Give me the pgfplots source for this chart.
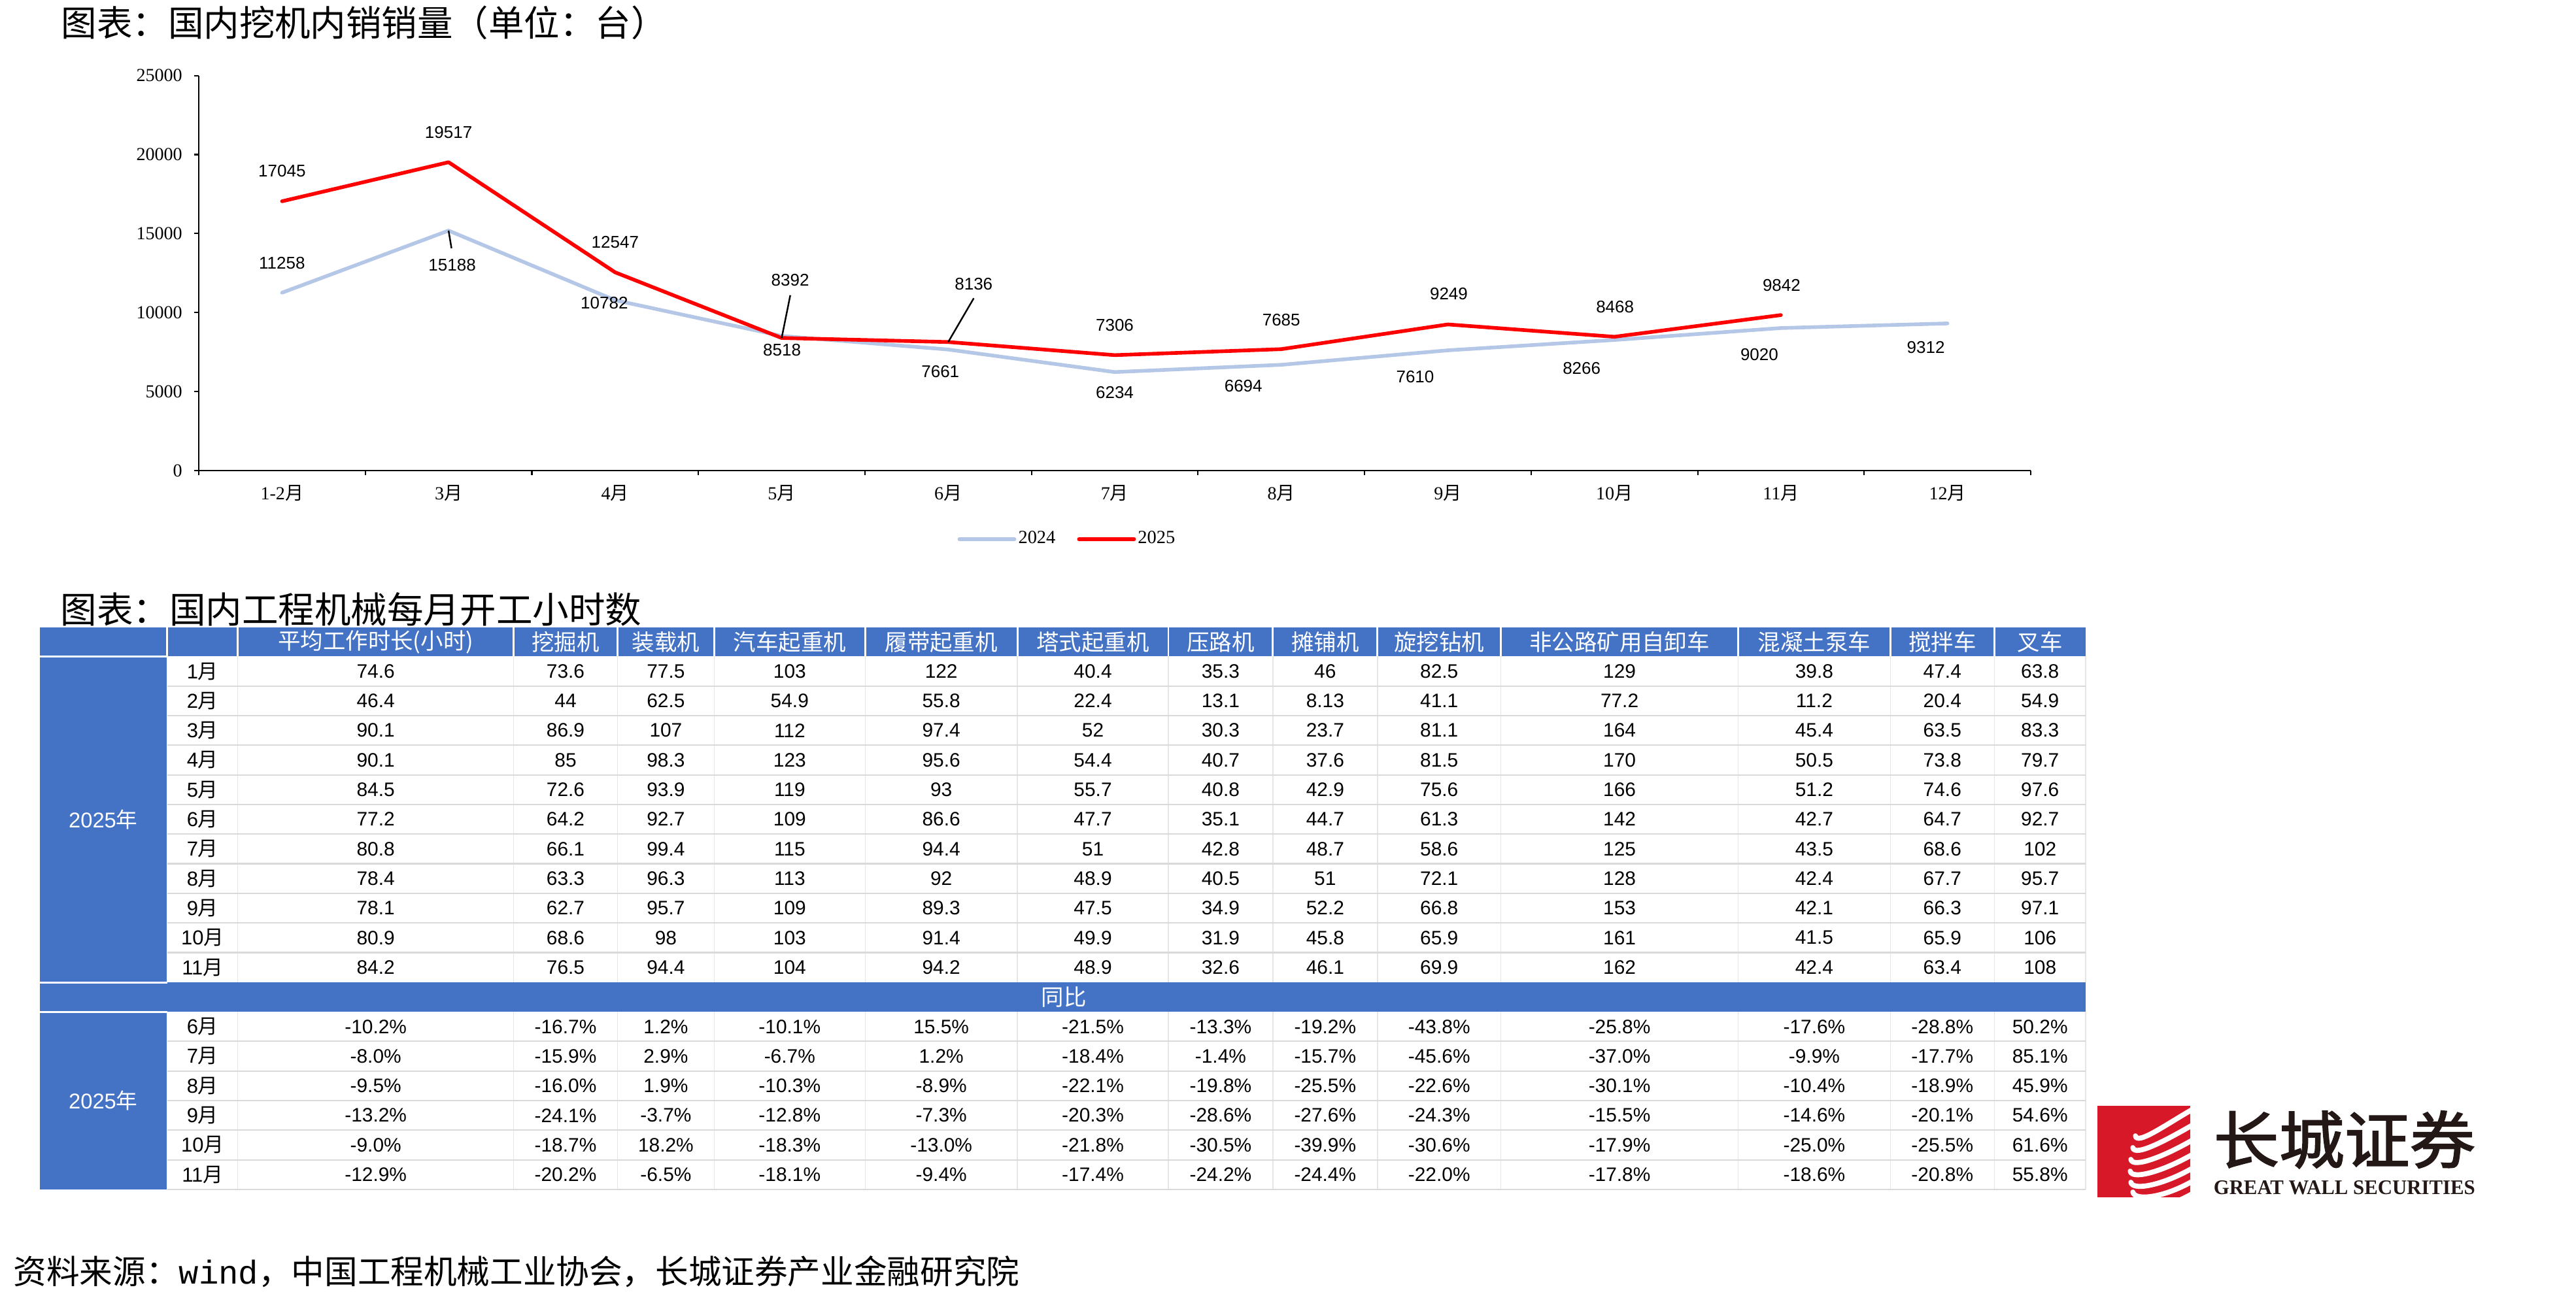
\documentclass[border=0pt]{standalone}
\usepackage{pgfplots}
\pgfplotsset{compat=1.18}
\usepackage{graphicx}
\usepackage{fontspec}
\setmainfont{Liberation Serif}
\newfontfamily\cjk{Noto Sans CJK SC}
\newfontfamily\cjkb[FakeBold=2]{Noto Sans CJK SC}
\newfontfamily\sans{Liberation Sans}
\newfontfamily\mono{Liberation Mono}
\definecolor{c24}{RGB}{180,199,231}
\definecolor{c25}{RGB}{255,0,0}
\definecolor{tblue}{RGB}{68,114,196}
\definecolor{hline}{RGB}{217,217,217}
\definecolor{vline}{RGB}{230,230,230}
\definecolor{logored}{RGB}{214,24,40}
\definecolor{logoink}{RGB}{35,24,21}
\def\colc{{575,865.5,1019,1208.5,1440.5,1672.5,1868,2028,2202.5,2478.5,2776.5,2972.5,3122}}
\tikzset{
  num/.style={font=\sans\fontsize{8.5}{10}\selectfont, inner sep=0pt},
  mon/.style={font=\sans\fontsize{8.8}{10}\selectfont, inner sep=0pt},
  hdr/.style={text=white, font=\cjk\fontsize{9.8}{10}\selectfont, inner sep=0pt},
  lbl/.style={font=\sans\fontsize{7.4}{8}\selectfont, inner sep=0pt, anchor=center},
}
\newcommand\trow[3]{%
  \node[mon] at (310,#1) {#2{\cjk 月}};
  \foreach \v [count=\i from 0] in {#3} {\pgfmathsetmacro\cx{\colc[\i]}\node[num] at (\cx,#1) {\v};}%
}
\begin{document}
\begin{tikzpicture}
\useasboundingbox (0,0) rectangle (39.40,19.83);
\begin{axis}[
  at={(3.04cm,12.63cm)}, anchor=south west,
  scale only axis, width=28.02cm, height=6.043cm,
  xmin=-0.5, xmax=10.5, ymin=0, ymax=25000,
  axis x line*=bottom, axis y line*=left,
  axis line style={black, line width=0.6pt, -},
  tick align=outside,
  major tick length=0.075cm,
  tick style={black, line width=0.6pt},
  xtick={-0.5,0.5,...,10.5}, xticklabels={},
  extra x ticks={0,1,2,3,4,5,6,7,8,9,10},
  extra x tick labels={{1-2\cjk 月},{3\cjk 月},{4\cjk 月},{5\cjk 月},{6\cjk 月},{7\cjk 月},{8\cjk 月},{9\cjk 月},{10\cjk 月},{11\cjk 月},{12\cjk 月}},
  extra x tick style={major tick length=0pt, tick style={draw=none}},
  x tick label style={font=\rmfamily\fontsize{8}{9}\selectfont, inner sep=0pt, anchor=north, yshift=-0.22cm},
  ytick={0,5000,10000,15000,20000,25000},
  scaled y ticks=false,
  y tick label style={font=\rmfamily\fontsize{8}{9}\selectfont, inner sep=0pt, xshift=-0.17cm, /pgf/number format/1000 sep={}, /pgf/number format/assume math mode=true},
  clip=false,
  legend columns=2,
  legend style={draw=none, fill=none, at={(0.4741,-0.1738)}, anchor=center, font=\rmfamily\fontsize{8.1}{9}\selectfont, inner sep=0pt, nodes={inner sep=0.03cm}, /tikz/column 2/.style={column sep=0.3cm}},
  legend image code/.code={\draw[#1, line width=1.7pt, line cap=round] (0cm,0cm) -- (0.84cm,0cm);},
]
\addplot[c24, line width=1.6pt, line join=round, line cap=round] coordinates {
(0,11258) (1,15188) (2,10782) (3,8518) (4,7661) (5,6234) (6,6694) (7,7610) (8,8266) (9,9020) (10,9312)};
\addlegendentry{2024}
\addplot[c25, line width=1.6pt, line join=round, line cap=round] coordinates {
(0,17045) (1,19517) (2,12547) (3,8392) (4,8136) (5,7306) (6,7685) (7,9249) (8,8468) (9,9842)};
\addlegendentry{2025}
% leader lines
\draw[black, line width=0.7pt] (axis cs:3,8392) -- ++(0.132cm,0.654cm);
\draw[black, line width=0.7pt] (axis cs:4,8136) -- ++(0.391cm,0.67cm);
\draw[black, line width=0.7pt] (axis cs:1,15188) -- ++(0.045cm,-0.27cm);
% 2025 labels
\node[lbl, yshift=0.46cm] at (axis cs:0,17045) {17045};
\node[lbl, yshift=0.46cm] at (axis cs:1,19517) {19517};
\node[lbl, yshift=0.457cm] at (axis cs:2,12547) {12547};
\node[lbl, xshift=0.13cm, yshift=0.886cm] at (axis cs:3,8392) {8392};
\node[lbl, xshift=0.39cm, yshift=0.89cm] at (axis cs:4,8136) {8136};
\node[lbl, yshift=0.46cm] at (axis cs:5,7306) {7306};
\node[lbl, yshift=0.45cm] at (axis cs:6,7685) {7685};
\node[lbl, xshift=0.015cm, yshift=0.464cm] at (axis cs:7,9249) {9249};
\node[lbl, xshift=0.01cm, yshift=0.46cm] at (axis cs:8,8468) {8468};
\node[lbl, xshift=0.01cm, yshift=0.46cm] at (axis cs:9,9842) {9842};
% 2024 labels
\node[lbl, yshift=0.456cm] at (axis cs:0,11258) {11258};
\node[lbl, xshift=0.055cm, yshift=-0.53cm] at (axis cs:1,15188) {15188};
\node[lbl, xshift=-0.165cm, yshift=-0.045cm] at (axis cs:2,10782) {10782};
\node[lbl, xshift=0.006cm, yshift=-0.215cm] at (axis cs:3,8518) {8518};
\node[lbl, xshift=-0.12cm, yshift=-0.34cm] at (axis cs:4,7661) {7661};
\node[lbl, yshift=-0.317cm] at (axis cs:5,6234) {6234};
\node[lbl, xshift=-0.58cm, yshift=-0.325cm] at (axis cs:6,6694) {6694};
\node[lbl, xshift=-0.50cm, yshift=-0.406cm] at (axis cs:7,7610) {7610};
\node[lbl, xshift=-0.50cm, yshift=-0.438cm] at (axis cs:8,8266) {8266};
\node[lbl, xshift=-0.33cm, yshift=-0.403cm] at (axis cs:9,9020) {9020};
\node[lbl, xshift=-0.33cm, yshift=-0.368cm] at (axis cs:10,9312) {9312};
\end{axis}

\begin{scope}[shift={(0cm,19.83cm)}, x=0.01cm, y=-0.01cm]
% titles
\node[anchor=west, inner sep=0pt, font=\cjk\fontsize{15.5}{17}\selectfont] at (93,35) {图表：国内挖机内销销量（单位：台）};
\node[anchor=west, inner sep=0pt, font=\cjk\fontsize{15.8}{17}\selectfont] at (92,933) {图表：国内工程机械每月开工小时数};
% table backgrounds
\fill[tblue] (61,961) rectangle (3192,1005);
\fill[tblue] (61,1005) rectangle (255,1504);
\fill[tblue] (61,1504) rectangle (3192,1549);
\fill[tblue] (61,1549) rectangle (255,1821);
\foreach \b in {256,364,786,945,1093,1324,1557,1788,1948,2108,2297,2660,2893,3052}
  \draw[white, line width=0.8pt] (\b,961) -- (\b,1005);
\draw[white, line width=0.8pt] (61,1005) -- (256,1005);
\draw[white, line width=0.8pt] (61,1504) -- (256,1504);
\draw[white, line width=0.8pt] (61,1549) -- (256,1549);
% grid
\foreach \b in {364,786,945,1093,1324,1557,1788,1948,2108,2297,2660,2893,3052,3192} {
  \draw[vline, line width=0.4pt] (\b,1005) -- (\b,1504);
  \draw[vline, line width=0.4pt] (\b,1549) -- (\b,1821);
}
\foreach \yy in {1050.3,1095.7,1141,1186.3,1231.7,1277,1322.3,1367.7,1413,1458.3,1594.3,1639.7,1685,1730.3,1775.7,1821}
  \draw[hline, line width=0.6pt] (256,\yy) -- (3192,\yy);
% header text
\foreach \t [count=\i from 0] in {平均工作时长(小时),挖掘机,装载机,汽车起重机,履带起重机,塔式起重机,压路机,摊铺机,旋挖钻机,非公路矿用自卸车,混凝土泵车,搅拌车,叉车}
  {\pgfmathsetmacro\cx{\colc[\i]}\node[hdr] at (\cx,983) {\t};}
\node[text=white, inner sep=0pt, font=\sans\fontsize{9.3}{10}\selectfont] at (158,1255) {2025{\cjk 年}};
\node[text=white, inner sep=0pt, font=\sans\fontsize{9.3}{10}\selectfont] at (158,1685) {2025{\cjk 年}};
\node[hdr] at (1628,1526.5) {同比};
% data rows
\trow{1027.7}{1}{74.6,73.6,77.5,103,122,40.4,35.3,46,82.5,129,39.8,47.4,63.8}
\trow{1073.0}{2}{46.4,44,62.5,54.9,55.8,22.4,13.1,8.13,41.1,77.2,11.2,20.4,54.9}
\trow{1118.3}{3}{90.1,86.9,107,112,97.4,52,30.3,23.7,81.1,164,45.4,63.5,83.3}
\trow{1163.7}{4}{90.1,85,98.3,123,95.6,54.4,40.7,37.6,81.5,170,50.5,73.8,79.7}
\trow{1209.0}{5}{84.5,72.6,93.9,119,93,55.7,40.8,42.9,75.6,166,51.2,74.6,97.6}
\trow{1254.3}{6}{77.2,64.2,92.7,109,86.6,47.7,35.1,44.7,61.3,142,42.7,64.7,92.7}
\trow{1299.7}{7}{80.8,66.1,99.4,115,94.4,51,42.8,48.7,58.6,125,43.5,68.6,102}
\trow{1345.0}{8}{78.4,63.3,96.3,113,92,48.9,40.5,51,72.1,128,42.4,67.7,95.7}
\trow{1390.3}{9}{78.1,62.7,95.7,109,89.3,47.5,34.9,52.2,66.8,153,42.1,66.3,97.1}
\trow{1435.7}{10}{80.9,68.6,98,103,91.4,49.9,31.9,45.8,65.9,161,41.5,65.9,106}
\trow{1481.0}{11}{84.2,76.5,94.4,104,94.2,48.9,32.6,46.1,69.9,162,42.4,63.4,108}
% yoy rows
\trow{1571.7}{6}{-10.2\%,-16.7\%,1.2\%,-10.1\%,15.5\%,-21.5\%,-13.3\%,-19.2\%,-43.8\%,-25.8\%,-17.6\%,-28.8\%,50.2\%}
\trow{1617.0}{7}{-8.0\%,-15.9\%,2.9\%,-6.7\%,1.2\%,-18.4\%,-1.4\%,-15.7\%,-45.6\%,-37.0\%,-9.9\%,-17.7\%,85.1\%}
\trow{1662.3}{8}{-9.5\%,-16.0\%,1.9\%,-10.3\%,-8.9\%,-22.1\%,-19.8\%,-25.5\%,-22.6\%,-30.1\%,-10.4\%,-18.9\%,45.9\%}
\trow{1707.7}{9}{-13.2\%,-24.1\%,-3.7\%,-12.8\%,-7.3\%,-20.3\%,-28.6\%,-27.6\%,-24.3\%,-15.5\%,-14.6\%,-20.1\%,54.6\%}
\trow{1753.0}{10}{-9.0\%,-18.7\%,18.2\%,-18.3\%,-13.0\%,-21.8\%,-30.5\%,-39.9\%,-30.6\%,-17.9\%,-25.0\%,-25.5\%,61.6\%}
\trow{1798.3}{11}{-12.9\%,-20.2\%,-6.5\%,-18.1\%,-9.4\%,-17.4\%,-24.2\%,-24.4\%,-22.0\%,-17.8\%,-18.6\%,-20.8\%,55.8\%}
% source
\node[anchor=west, inner sep=0pt, font=\cjk\fontsize{14.4}{16}\selectfont] at (20,1946.5) {资料来源：{\mono wind}，中国工程机械工业协会，长城证券产业金融研究院};
% logo
\fill[logored] (3210,1693) rectangle (3352,1833);
\begin{scope}
\clip (3210,1693) rectangle (3352,1833);
\foreach \lx/\ly/\ry in {3268/1739/1698, 3264/1757/1722, 3261/1775/1745, 3260/1793/1767, 3261/1810/1788, 3264/1825/1808, 3268/1840/1827}
  \draw[white, line width=2.2pt, line cap=round] (\lx,\ly) .. controls +(3,14) and +(-45,26) .. (3356,\ry);
\end{scope}
\node[anchor=north west, inner sep=0pt, text=logoink] at (3387,1700) {\resizebox*{4.0cm}{0.88cm}{\cjkb 长城证券}};
\node[anchor=north west, inner sep=0pt, text=logoink] at (3387,1807) {\resizebox{4.0cm}{0.21cm}{\bfseries GREAT WALL SECURITIES}};
\end{scope}
\end{tikzpicture}
\end{document}
